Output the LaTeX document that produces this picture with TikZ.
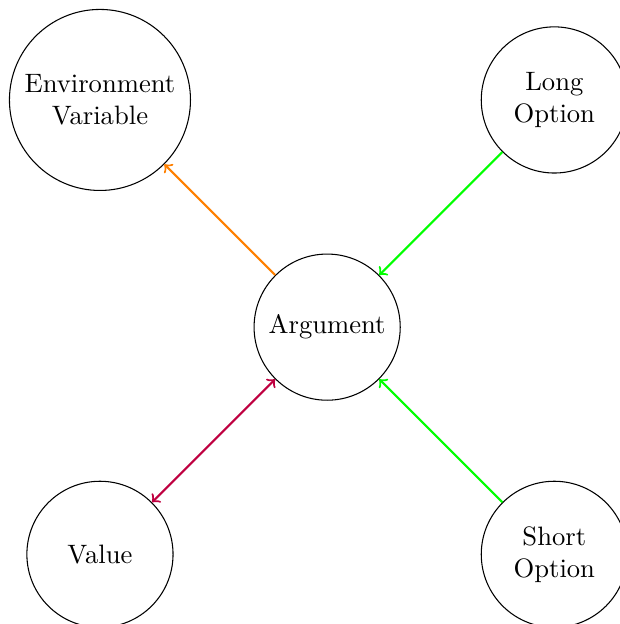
\documentclass[tikz,border=0pt]{standalone}
\usepackage{tikz}
\usetikzlibrary{positioning}
\tikzset{
item/.style={circle,draw=black,minimum size=1.93cm,align=center},
link/.style={thick,->},
}
\begin{document}
\begin{tikzpicture}
\useasboundingbox (-4.32,-3.92) rectangle (3.86,4.32);
\node[item] (arg) at (0,0) {Argument};
\node[item] (env) at (-3,3) {Environment\\Variable};
\node[item] (long) at (3,3) {Long\\Option};
\node[item] (val) at (-3,-3) {Value};
\node[item] (short) at (3,-3) {Short\\Option};
% edges
\draw[link,orange] (arg) -- (env);
\draw[link,green] (long) -- (arg);
\draw[link,green] (short) -- (arg);
\draw[link,<->,purple] (arg) -- (val);
\end{tikzpicture}
\end{document}
